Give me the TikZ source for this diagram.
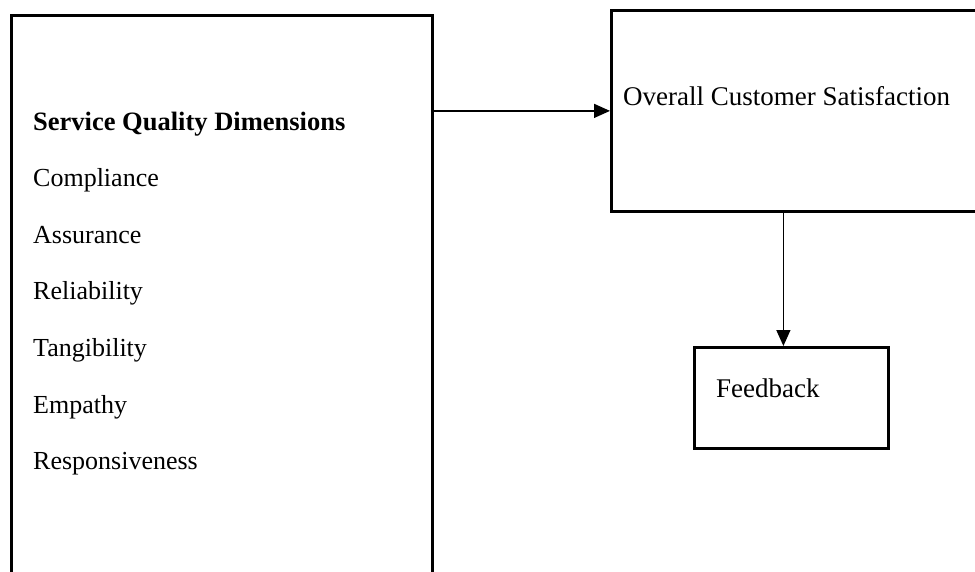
\documentclass[tikz,border=0pt]{standalone}
\usepackage{fontspec}
\setmainfont{Liberation Serif}
\usetikzlibrary{arrows.meta,positioning}

\begin{document}
\begin{tikzpicture}[x=1pt,y=-1pt,
		box/.style = {draw, line width=2.8pt, rectangle, anchor=north west, inner sep=0},
		item/.style = {anchor=base west, inner sep=0, font=\fontsize{27}{32}\selectfont},
		dim/.style = {item, font=\fontsize{26}{31}\selectfont},
		arr/.style = {line width=1.4pt, -{Triangle[length=16pt,width=14pt]}}]
		\clip (0,0) rectangle (975,572);
		\node[box, minimum width=421pt, minimum height=600pt] (dims) at (10,14) {};
		\node[box, minimum width=400pt, minimum height=201pt] (sat) at (610,9) {};
		\node[box, minimum width=194pt, minimum height=101pt] (fb) at (693,346) {};
		\node[item, font=\fontsize{26.5}{32}\selectfont\bfseries] (1) at (33,131) {Service Quality Dimensions};
		\node[dim] (2) at (33,187) {Compliance};
		\node[dim] (3) at (33,244) {Assurance};
		\node[dim] (4) at (33,300) {Reliability};
		\node[dim] (5) at (33,356) {Tangibility};
		\node[dim] (6) at (33,413) {Empathy};
		\node[dim] (7) at (33,469) {Responsiveness};
		\node[item] (s) at (623,106) {Overall Customer Satisfaction};
		\node[item] (f) at (716,397) {Feedback};
		\draw[arr] (dims.east |- sat.west) -- (sat.west);
		\draw[arr] ([xshift=-8pt]fb.north |- sat.south) -- ([xshift=-8pt]fb.north);
	\end{tikzpicture}
\end{document}
